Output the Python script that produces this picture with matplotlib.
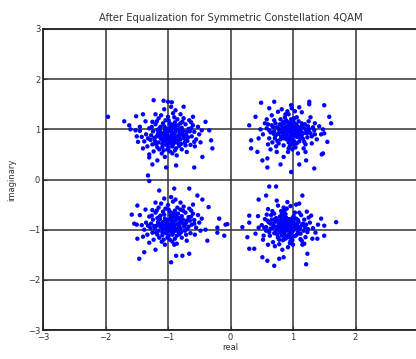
import numpy as np
import matplotlib
matplotlib.use("Agg")
import matplotlib.pyplot as plt

# received symbols after equalization
upper_left = [
    (-0.95,0.88),(-0.88,0.95),(-1.02,0.81),(-0.91,1.02),(-1.08,0.92),(-0.82,0.84),(-0.99,0.72),(-1.12,1.05),(-0.76,0.97),(-0.93,0.66),
    (-1.05,0.99),(-0.86,0.78),(-1.18,0.86),(-0.71,0.90),(-0.97,1.12),(-1.01,0.60),(-0.84,1.08),(-1.15,0.74),(-0.79,0.71),(-1.24,0.96),
    (-0.90,0.90),(-1.06,0.85),(-0.94,0.79),(-0.87,1.00),(-1.10,0.80),(-0.81,0.92),(-1.00,0.95),(-0.92,0.70),(-1.13,0.97),(-0.74,0.82),
    (-1.28,0.79),(-0.67,1.01),(-1.04,1.18),(-0.89,0.58),(-1.20,1.10),(-0.62,0.86),(-1.35,0.90),(-0.85,1.20),(-1.09,0.65),(-0.72,1.10),
    (-0.98,0.84),(-0.83,0.88),(-1.07,0.76),(-0.96,1.05),(-1.16,0.91),(-0.78,1.03),(-1.03,0.69),(-0.88,0.74),(-1.22,0.83),(-0.69,0.77),
    (-1.00,1.25),(-0.93,0.52),(-1.30,1.02),(-0.58,0.95),(-1.14,0.60),(-0.75,1.22),(-1.38,0.76),(-0.64,0.69),(-1.11,1.28),(-0.86,0.48),
    (-0.94,0.95),(-1.02,0.90),(-0.90,0.82),(-0.97,0.76),(-1.06,1.06),(-0.80,0.80),(-1.19,0.70),(-0.70,0.95),(-1.25,1.15),(-0.60,1.08),
    (-1.42,0.85),(-0.55,0.80),(-1.10,0.52),(-0.78,0.60),(-0.92,1.32),(-1.20,1.30),(-0.66,1.18),(-1.33,0.66),(-0.50,0.90),(-1.45,1.05),
    (-0.99,0.64),(-0.84,0.99),(-1.08,1.12),(-0.76,0.88),(-1.17,0.99),(-0.89,1.14),(-1.03,0.78),(-0.95,0.72),(-0.82,0.67),(-1.13,0.88),
    (-0.73,0.74),(-1.27,0.88),(-0.63,1.14),(-1.36,1.16),(-0.88,1.38),(-1.06,1.40),(-0.52,1.05),(-1.40,0.62),(-0.57,0.66),(-1.23,0.56),
    (-0.46,0.98),(-0.48,0.74),(-1.50,0.86),(-0.80,1.30),(-1.15,1.22),(-0.70,0.55),(-1.05,0.45),(-0.95,1.45),(-0.60,1.25),(-1.30,0.50),
    (-1.96,1.25),(-1.70,1.16),(-1.60,1.00),(-1.52,0.98),(-1.45,0.97),(-1.51,1.26),(-1.48,0.75),(-1.23,1.58),(-1.07,1.57),(-1.00,1.55),
    (-0.94,1.54),(-1.30,0.44),(-1.17,0.38),(-1.03,0.24),(-0.87,0.28),(-0.58,0.24),(-1.32,0.08),(-0.31,0.78),(-0.34,0.98),(-0.29,0.62),
    (-0.40,1.15),(-1.62,1.08),(-1.40,1.30),(-0.75,1.45),(-0.45,0.45),(-1.25,0.30),
]
# extra points in the dense centre of that cluster
upper_left_core = [
    (-0.93,0.92),(-1.01,0.86),(-0.86,0.85),(-1.04,1.02),(-0.91,0.77),(-0.79,0.94),(-1.11,0.90),(-0.97,0.98),(-0.84,0.73),(-1.09,0.71),
    (-0.96,0.82),(-0.88,1.07),(-1.14,1.01),(-0.74,0.89),(-1.01,0.74),(-0.81,1.01),(-1.21,0.77),(-0.68,0.84),(-1.05,0.93),(-0.92,1.09),
    (-0.87,0.62),(-1.17,0.64),(-0.77,1.15),(-1.26,1.05),(-0.65,0.96),(-0.99,1.18),(-1.12,0.83),(-0.83,0.79),(-0.94,0.86),(-1.00,1.00),
    (-1.32,0.82),(-0.72,0.68),(-0.58,0.75),(-1.18,1.16),(-0.90,1.24),(-1.07,0.58),(-0.63,1.02),(-1.25,0.70),(-0.97,0.56),(-0.80,1.12),
]

upper_right = [
    (0.95,0.95),(1.02,0.90),(0.88,1.01),(0.99,1.06),(0.91,0.86),(1.08,0.98),(0.83,0.93),(1.00,0.79),(0.86,1.12),(1.14,0.88),
    (0.78,0.99),(1.05,1.10),(0.93,0.74),(1.18,1.02),(0.72,0.87),(0.97,1.20),(1.10,0.76),(0.80,0.80),(1.22,0.92),(0.68,1.05),
    (0.90,0.92),(1.04,0.96),(0.96,0.84),(0.87,0.97),(1.12,1.04),(0.82,1.07),(1.01,0.70),(0.92,1.14),(1.16,0.81),(0.76,0.91),
    (0.64,0.94),(1.26,1.00),(0.85,0.68),(1.06,1.24),(0.70,1.18),(1.20,0.70),(0.58,1.02),(1.30,0.86),(0.99,0.60),(0.88,1.30),
    (0.94,1.00),(1.00,0.88),(0.89,0.89),(1.07,0.85),(0.84,1.03),(0.98,1.12),(1.13,0.95),(0.75,0.77),(1.09,1.16),(0.80,1.20),
    (0.62,0.82),(1.34,0.98),(0.73,0.66),(1.25,1.16),(0.92,0.55),(1.03,1.36),(0.55,1.12),(1.38,0.80),(0.66,1.28),(1.17,0.62),
    (0.97,0.92),(0.90,1.06),(1.03,1.03),(0.86,0.82),(1.11,0.92),(0.79,1.10),(1.19,1.10),(0.70,0.96),(0.95,0.67),(1.06,0.72),
    (0.52,0.90),(1.42,1.06),(0.60,0.70),(1.30,0.72),(0.82,1.40),(1.14,1.34),(0.48,1.00),(1.45,0.90),(0.74,0.55),(1.08,0.52),
    (0.93,0.80),(1.01,1.15),(0.81,0.86),(1.15,1.07),(0.77,1.02),(1.23,0.84),(0.87,1.24),(1.04,0.64),(0.67,0.74),(1.28,1.24),
    (0.58,1.20),(0.98,1.42),(1.35,1.12),(0.64,0.60),(1.20,0.55),(0.85,0.45),(0.45,0.82),(1.48,1.00),(0.76,1.35),(1.10,1.44),
    (0.90,1.00),(1.00,1.00),(0.96,1.05),(0.85,0.95),(1.05,0.92),(0.72,1.12),(1.25,0.95),(0.60,1.10),(1.35,0.90),(0.93,1.30),
    (0.49,1.53),(0.70,1.55),(0.97,1.48),(1.26,1.55),(1.26,1.50),(1.50,1.48),(1.58,1.25),(1.61,1.12),(0.30,1.08),(0.33,0.78),
    (0.33,0.62),(0.43,0.55),(0.51,0.38),(0.59,0.42),(0.59,0.24),(0.97,0.15),(1.34,0.22),(1.46,0.50),(1.48,0.52),(1.55,0.75),
    (1.50,0.92),(1.21,0.38),(0.40,1.25),(0.80,0.30),(1.10,0.30),(0.62,1.42),
]
upper_right_core = [
    (0.92,0.97),(1.04,0.86),(0.86,0.90),(0.98,1.01),(0.90,0.80),(1.10,1.01),(0.81,0.97),(1.02,0.76),(0.89,1.18),(1.16,0.92),
    (0.74,1.04),(1.07,1.06),(0.96,0.78),(1.21,0.98),(0.69,0.91),(0.94,1.09),(1.12,0.82),(0.83,0.84),(1.00,0.94),(0.87,1.03),
    (0.97,0.88),(1.06,1.00),(0.79,0.95),(1.14,1.12),(0.93,0.62),(0.66,1.08),(1.28,0.92),(1.02,1.22),(0.77,0.72),(1.18,0.75),
    (0.88,0.93),(0.95,1.13),(1.09,0.90),(0.84,1.15),(1.24,1.06),(0.62,0.98),(0.99,0.71),(0.71,0.82),(1.32,1.04),(0.91,1.36),
]

lower_left = [
    (-0.95,-0.88),(-0.88,-0.82),(-1.02,-0.95),(-0.91,-0.74),(-1.08,-0.85),(-0.82,-0.93),(-0.99,-1.04),(-1.12,-0.72),(-0.76,-0.80),(-0.93,-1.10),
    (-1.05,-0.78),(-0.86,-0.99),(-1.18,-0.92),(-0.71,-0.86),(-0.97,-0.64),(-1.01,-1.16),(-0.84,-0.68),(-1.15,-1.02),(-0.79,-1.05),(-1.24,-0.80),
    (-0.90,-0.90),(-1.06,-0.91),(-0.94,-0.97),(-0.87,-0.76),(-1.10,-0.96),(-0.81,-0.84),(-1.00,-0.81),(-0.92,-1.06),(-1.13,-0.79),(-0.74,-0.94),
    (-1.28,-0.97),(-0.67,-0.75),(-1.04,-0.58),(-0.89,-1.18),(-1.20,-0.66),(-0.62,-0.90),(-1.35,-0.86),(-0.85,-0.56),(-1.09,-1.11),(-0.72,-0.66),
    (-0.98,-0.92),(-0.83,-0.88),(-1.07,-1.00),(-0.96,-0.71),(-1.16,-0.85),(-0.78,-0.73),(-1.03,-1.07),(-0.88,-1.02),(-1.22,-0.93),(-0.69,-0.99),
    (-1.00,-0.51),(-0.93,-1.24),(-1.30,-0.74),(-0.58,-0.81),(-1.14,-1.16),(-0.75,-0.54),(-1.38,-1.00),(-0.64,-1.07),(-1.11,-0.48),(-0.86,-1.28),
    (-0.94,-0.84),(-1.02,-0.87),(-0.90,-0.96),(-0.97,-1.00),(-1.06,-0.70),(-0.80,-0.98),(-1.19,-1.06),(-0.70,-0.82),(-1.25,-0.61),(-0.60,-0.68),
    (-1.42,-0.91),(-0.55,-0.96),(-1.10,-1.24),(-0.78,-1.16),(-0.92,-0.44),(-1.20,-0.46),(-0.66,-0.58),(-1.33,-1.10),(-0.50,-0.86),(-1.45,-0.71),
    (-0.99,-1.12),(-0.84,-0.77),(-1.08,-0.64),(-0.76,-0.88),(-1.17,-0.77),(-0.89,-0.62),(-1.03,-0.98),(-0.95,-1.04),(-0.82,-1.09),(-1.13,-0.88),
    (-0.73,-1.02),(-1.27,-0.88),(-0.63,-0.62),(-1.36,-0.60),(-0.88,-0.40),(-1.06,-0.38),(-0.52,-0.71),(-1.40,-1.14),(-0.57,-1.10),(-1.23,-1.20),
    (-0.46,-0.78),(-0.48,-1.02),(-1.50,-0.90),(-0.80,-0.46),(-1.15,-0.56),(-0.70,-1.22),(-1.05,-1.30),(-0.95,-0.35),(-0.60,-0.50),(-1.30,-1.26),
    (-1.30,-0.03),(-1.14,-0.22),(-0.90,-0.18),(-0.66,-0.18),(-0.53,-0.32),(-1.49,-0.52),(-1.54,-0.88),(-1.49,-1.18),(-1.38,-1.45),(-1.46,-1.58),
    (-0.95,-1.65),(-0.87,-1.52),(-0.77,-1.52),(-0.66,-1.48),(-0.37,-1.22),(-0.21,-0.96),(-0.21,-1.06),(-0.18,-0.78),(-0.08,-0.90),(-0.10,-1.12),
    (-0.35,-0.55),(-1.58,-0.70),(-0.40,-1.00),(-1.20,-1.40),(-0.45,-0.40),
]
lower_left_core = [
    (-0.92,-0.86),(-1.00,-0.91),(-0.85,-0.90),(-1.04,-0.81),(-0.90,-1.00),(-0.78,-0.86),(-1.11,-0.89),(-0.96,-0.78),(-0.83,-1.04),(-1.09,-1.05),
    (-0.96,-0.94),(-0.87,-0.70),(-1.14,-0.75),(-0.73,-0.90),(-1.01,-1.02),(-0.80,-0.77),(-1.21,-0.98),(-0.67,-0.94),(-1.05,-0.84),(-0.91,-0.67),
    (-0.86,-1.12),(-1.17,-1.10),(-0.76,-0.62),(-1.26,-0.72),(-0.65,-0.82),(-0.99,-0.60),(-1.12,-0.94),(-0.82,-0.95),(-0.94,-0.80),(-1.00,-1.00),
    (-1.32,-0.92),(-0.71,-1.10),(-0.58,-0.88),(-1.18,-0.62),(-0.90,-1.30),(-1.07,-1.20),(-0.63,-0.74),(-1.25,-1.06),(-0.97,-1.20),(-0.80,-0.60),
]

lower_right = [
    (0.90,-0.93),(0.97,-0.87),(0.83,-1.00),(0.94,-0.79),(0.77,-0.90),(1.03,-0.98),(0.86,-1.09),(0.73,-0.77),(1.09,-0.85),(0.92,-1.15),
    (0.80,-0.83),(0.99,-1.04),(0.67,-0.97),(1.14,-0.91),(0.88,-0.69),(0.84,-1.21),(1.01,-0.73),(0.70,-1.07),(1.06,-1.10),(0.61,-0.85),
    (0.95,-0.95),(0.79,-0.96),(0.91,-1.02),(0.98,-0.81),(0.75,-1.01),(1.04,-0.89),(0.85,-0.86),(0.93,-1.11),(0.72,-0.84),(1.11,-0.99),
    (0.57,-1.02),(1.18,-0.80),(0.81,-0.63),(0.96,-1.23),(0.65,-0.71),(1.23,-1.05),(0.50,-0.91),(0.87,-0.61),(0.76,-1.16),(1.13,-0.71),
    (0.87,-0.97),(1.02,-0.93),(0.78,-0.88),(0.89,-0.76),(0.69,-0.92),(1.08,-1.05),(0.82,-1.12),(0.97,-1.00),(0.63,-1.12),(1.16,-0.88),
    (0.85,-0.56),(0.78,-1.29),(0.55,-0.79),(1.27,-0.86),(0.99,-1.21),(0.60,-0.59),(1.20,-1.15),(0.53,-1.12),(0.96,-0.53),(0.71,-1.33),
    (0.89,-0.89),(0.93,-0.97),(0.81,-0.94),(0.86,-1.05),(1.05,-0.78),(0.74,-0.95),(0.95,-1.09),(0.66,-0.80),(1.10,-0.66),(1.00,-1.30),
    (0.45,-0.96),(1.32,-0.97),(0.68,-1.25),(0.92,-1.35),(1.22,-0.64),(0.76,-0.52),(0.60,-1.30),(1.31,-1.18),(0.44,-0.73),(1.40,-0.90),
    (0.84,-0.92),(0.97,-1.16),(0.73,-1.06),(1.01,-0.84),(0.88,-1.18),(0.70,-0.68),(1.12,-1.19),(0.79,-0.74),(1.07,-0.96),(0.64,-0.98),
    (0.58,-0.70),(1.25,-0.76),(0.52,-1.20),(0.83,-1.40),(1.15,-1.30),(0.91,-0.45),(0.40,-1.08),(1.36,-1.06),(0.74,-0.42),(1.05,-0.50),
    (0.90,-0.85),(0.98,-0.92),(0.80,-1.05),(0.94,-1.02),(0.86,-0.80),(0.68,-0.88),(1.12,-1.08),(0.57,-0.95),(1.19,-0.95),(0.82,-0.70),
    (0.62,-0.14),(0.73,-0.14),(0.57,-0.32),(1.15,-0.32),(-0.05,-0.89),(0.30,-0.72),(0.30,-0.86),(0.19,-0.95),(0.27,-1.15),(0.30,-1.38),
    (0.38,-1.38),(0.51,-1.55),(0.59,-1.62),(0.70,-1.72),(0.78,-1.58),(1.21,-1.69),(1.23,-1.48),(1.18,-1.28),(1.50,-1.12),(1.69,-0.85),
    (1.50,-0.92),(1.39,-1.18),(1.29,-0.72),(1.10,-0.48),(0.45,-0.40),(0.85,-1.55),(1.45,-0.78),
]
lower_right_core = [
    (0.88,-0.91),(0.96,-0.84),(0.81,-0.97),(0.92,-0.83),(0.79,-0.87),(1.01,-1.01),(0.84,-1.06),(0.75,-0.81),(1.06,-0.90),(0.90,-1.12),
    (0.82,-0.79),(0.97,-1.07),(0.70,-0.94),(1.11,-0.95),(0.86,-0.73),(0.87,-1.15),(0.99,-0.77),(0.73,-1.03),(1.03,-1.13),(0.64,-0.88),
    (0.92,-0.98),(0.77,-0.99),(0.94,-0.90),(1.00,-0.96),(0.71,-0.79),(1.08,-0.81),(0.83,-0.64),(0.95,-1.27),(0.62,-1.05),(1.17,-1.02),
    (0.59,-0.82),(1.21,-0.90),(0.78,-1.20),(1.03,-0.66),(0.67,-0.63),(1.14,-1.22),(0.90,-0.58),(0.75,-1.10),(1.24,-0.99),(0.54,-0.96),
]

ticks = [-3, -2, -1, 0, 1, 2, 3]

pts = np.array(upper_left + upper_left_core + upper_right + upper_right_core
               + lower_left + lower_left_core + lower_right + lower_right_core)

fig = plt.figure(figsize=(4.16, 3.59), dpi=100)
ax = fig.add_axes([43/416, 1-330/359, 375/416, 301/359])

ax.scatter(pts[:, 0], pts[:, 1], s=10, color='#0000ff', edgecolors='none', zorder=3)

ax.set_xlim(-3, 3)
ax.set_ylim(-3, 3)
ax.set_xticks(ticks)
ax.set_yticks(ticks)
ax.grid(True, color='#333333', linewidth=1.1, linestyle='-')
ax.set_axisbelow(True)
ax.tick_params(direction='in', length=3, labelsize=6, colors='#333333', pad=2)
for s in ax.spines.values():
    s.set_color('#222222')
    s.set_linewidth(1.3)

ax.set_title('After Equalization for Symmetric Constellation 4QAM', fontsize=7.2, color='#333333', pad=6)
ax.set_xlabel('real', fontsize=6, color='#333333', labelpad=1)
ax.set_ylabel('imaginary', fontsize=6, color='#333333', labelpad=8)

fig.savefig('out.png', dpi=100)
